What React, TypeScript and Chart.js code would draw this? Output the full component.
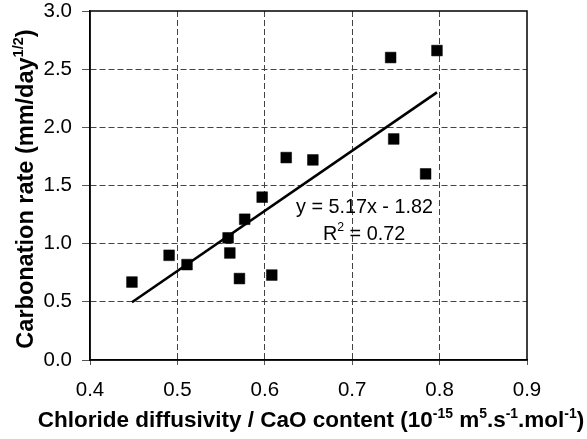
import React, { useEffect, useRef } from 'react';
import { Chart, registerables } from 'chart.js';

Chart.register(...registerables);

// ---- data ----
const xValues = [0.448, 0.4905, 0.511, 0.558, 0.56, 0.571, 0.577, 0.597, 0.608, 0.6245, 0.655, 0.744, 0.7475, 0.784, 0.797];
const yValues = [0.67, 0.9, 0.82, 1.05, 0.92, 0.7, 1.21, 1.4, 0.73, 1.74, 1.72, 2.6, 1.9, 1.6, 2.66];
const trendSlope = 5.17;
const trendIntercept = -1.82;
const trendRange = [0.448, 0.797];
const xTickMin = 0.4;
const xTickMax = 0.9;
const xTickStep = 0.1;
const yTickMin = 0;
const yTickMax = 3;
const yTickStep = 0.5;
const equationText = 'y = 5.17x - 1.82';
const r2Parts = [
  { t: 'R', sup: false },
  { t: '2', sup: true },
  { t: ' = 0.72', sup: false },
];
const xTitleParts = [
  { t: 'Chloride diffusivity / CaO content (10', sup: false },
  { t: '-15', sup: true },
  { t: ' m', sup: false },
  { t: '5', sup: true },
  { t: '.s', sup: false },
  { t: '-1', sup: true },
  { t: '.mol', sup: false },
  { t: '-1', sup: true },
  { t: ')', sup: false },
];
const yTitleParts = [
  { t: 'Carbonation rate (mm/day', sup: false },
  { t: '1/2', sup: true },
  { t: ')', sup: false },
];

type Part = { t: string; sup: boolean };

const FONT = '"Liberation Sans", Arial, sans-serif';

function drawRich(ctx: CanvasRenderingContext2D, parts: Part[], size: number, bold: boolean, align: 'center' | 'left') {
  const w = bold ? 'bold ' : '';
  const supSize = size * 0.62;
  const widths = parts.map((p) => {
    ctx.font = `${w}${p.sup ? supSize : size}px ${FONT}`;
    return ctx.measureText(p.t).width;
  });
  const total = widths.reduce((a, b) => a + b, 0);
  let x = align === 'center' ? -total / 2 : 0;
  ctx.textBaseline = 'alphabetic';
  ctx.textAlign = 'left';
  parts.forEach((p, i) => {
    ctx.font = `${w}${p.sup ? supSize : size}px ${FONT}`;
    ctx.fillText(p.t, x, p.sup ? -size * 0.42 : 0);
    x += widths[i];
  });
}

const overlayPlugin = {
  id: 'overlay',
  afterDraw(chart: any) {
    const ctx: CanvasRenderingContext2D = chart.ctx;
    const a = chart.chartArea;
    ctx.save();
    // plot frame
    ctx.strokeStyle = '#000';
    ctx.lineWidth = 1.5;
    ctx.strokeRect(a.left, a.top, a.right - a.left, a.bottom - a.top);
    ctx.fillStyle = '#000';
    // equation labels
    ctx.save();
    ctx.translate(296, 213);
    drawRich(ctx, [{ t: equationText, sup: false }], 19.8, false, 'left');
    ctx.restore();
    ctx.save();
    ctx.translate(323, 239.5);
    drawRich(ctx, r2Parts, 19.8, false, 'left');
    ctx.restore();
    // x title
    ctx.save();
    ctx.translate(311, 427);
    drawRich(ctx, xTitleParts, 22.5, true, 'center');
    ctx.restore();
    // y title
    ctx.save();
    ctx.translate(32.5, 189);
    ctx.rotate(-Math.PI / 2);
    drawRich(ctx, yTitleParts, 23.5, true, 'center');
    ctx.restore();
    ctx.restore();
  },
};

export default function App() {
  const ref = useRef<HTMLCanvasElement>(null);
  useEffect(() => {
    if (!ref.current) return;
    const points = xValues.map((x, i) => ({ x, y: yValues[i] }));
    const trend = trendRange.map((x) => ({ x, y: trendSlope * x + trendIntercept }));
    const gridColor = (c: any) => {
      const v = c.tick ? c.tick.value : 0;
      const s = c.scale;
      if (Math.abs(v - s.min) < 1e-6 || Math.abs(v - s.max) < 1e-6) return 'rgba(0,0,0,0)';
      return '#444';
    };
    const chart = new Chart(ref.current, {
      type: 'scatter',
      data: {
        datasets: [
          {
            type: 'line',
            data: trend,
            borderColor: '#000',
            borderWidth: 2.6,
            pointRadius: 0,
            fill: false,
            tension: 0,
          } as any,
          {
            data: points,
            pointStyle: 'rect',
            pointRadius: 7.6,
            backgroundColor: '#000',
            borderColor: '#000',
            borderWidth: 0.5,
          },
        ],
      },
      options: {
        animation: false,
        responsive: false,
        devicePixelRatio: 1,
        layout: { padding: { left: 0, top: 11, right: 60, bottom: 0 } },
        plugins: { legend: { display: false }, tooltip: { enabled: false } },
        scales: {
          x: {
            type: 'linear',
            min: xTickMin,
            max: xTickMax,
            afterFit: (s: any) => {
              s.height = 79;
              s.paddingLeft = 0;
              s.paddingRight = 0;
            },
            ticks: {
              stepSize: xTickStep,
              color: '#000',
              padding: 13,
              font: { family: FONT, size: 20.5 },
              callback: (v: any) => Number(v).toFixed(1),
            },
            grid: {
              color: gridColor,
              lineWidth: 1,
              tickLength: 5,
              tickColor: '#555',
              tickWidth: 1,
            },
            border: { display: true, color: '#000', width: 1.5, dash: [6, 3] },
          },
          y: {
            type: 'linear',
            min: yTickMin,
            max: yTickMax,
            afterFit: (s: any) => {
              s.width = 90;
              s.paddingTop = 0;
              s.paddingBottom = 0;
            },
            ticks: {
              stepSize: yTickStep,
              color: '#000',
              padding: 10,
              font: { family: FONT, size: 20.5 },
              callback: (v: any) => Number(v).toFixed(1),
            },
            grid: {
              color: gridColor,
              lineWidth: 1,
              tickLength: 8,
              tickColor: '#555',
              tickWidth: 1,
            },
            border: { display: true, color: '#000', width: 1.5, dash: [6, 3] },
          },
        },
      } as any,
      plugins: [overlayPlugin],
    });
    return () => chart.destroy();
  }, []);
  return (
    <div style={{ position: 'fixed', left: 0, top: 0, width: 587, height: 439, background: '#fff' }}>
      <canvas ref={ref} width={587} height={439} />
    </div>
  );
}
